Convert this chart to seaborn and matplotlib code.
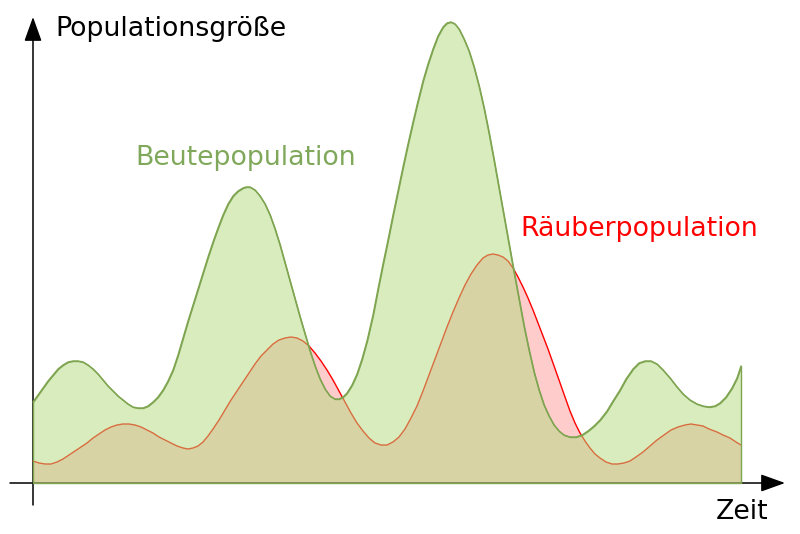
import matplotlib
matplotlib.use("Agg")
import pandas as pd
import matplotlib.pyplot as plt
import seaborn as sns

prey_t = [0, 5, 10, 15, 20, 25, 30, 35, 40, 45, 50, 55, 60, 65, 70, 75, 80, 85, 90, 95,
          100, 105, 110, 115, 120, 125, 130, 135, 140, 145, 150, 155, 160, 165, 170, 175,
          180, 185, 190, 195, 200, 205, 210, 213, 217, 222, 227, 232, 237, 242, 247, 252,
          257, 262, 267, 272, 277, 282, 287, 292, 297, 302, 306, 310, 314, 319, 324, 329,
          334, 340, 345, 350, 355, 360, 365, 370, 375, 380, 385, 390, 395, 400, 405, 410,
          414, 418, 422, 426, 431, 436, 441, 446, 451, 456, 461, 466, 471, 476, 481, 486,
          491, 496, 501, 506, 511, 516, 521, 526, 531, 537, 543, 549, 555, 561, 567, 574,
          580, 587, 593, 600, 606, 612, 618, 624, 630, 637, 644, 650, 657, 664, 670, 676,
          682, 687, 693, 699, 704, 708]
prey_n = [81, 88, 95, 102, 108, 114, 118, 121, 122, 122, 121, 118, 114, 109, 103, 97, 92, 87, 83, 79,
          76, 75, 75, 77, 81, 86, 93, 102, 113, 128, 145, 162, 178, 194, 210, 226,
          241, 255, 268, 279, 287, 292, 295, 296, 296, 293, 287, 279, 268, 254, 238, 220,
          202, 184, 166, 149, 132, 117, 104, 94, 87, 84, 84, 86, 90, 98, 109, 124,
          142, 168, 194, 219, 243, 268, 292, 316, 339, 361, 382, 402, 419, 434, 447, 456,
          460, 461, 459, 454, 444, 432, 416, 397, 375, 350, 323, 295, 267, 239, 211, 184,
          157, 133, 111, 93, 78, 67, 58, 52, 48, 46, 46, 48, 52, 57, 63, 72,
          82, 93, 104, 114, 120, 122, 122, 119, 113, 105, 96, 89, 83, 79, 77, 76,
          77, 80, 86, 95, 105, 117]

# Räuberpopulation
pred_t = [0, 6, 12, 18, 24, 30, 36, 42, 48, 54, 60, 66, 72, 78, 84, 90, 96, 102, 108, 114,
          120, 126, 132, 138, 144, 150, 155, 160, 165, 170, 175, 180, 186, 192, 198, 204,
          210, 216, 222, 228, 234, 240, 246, 252, 258, 264, 270, 276, 282, 288, 294, 300,
          306, 312, 318, 324, 330, 336, 342, 348, 354, 360, 366, 372, 378, 384, 390, 396,
          402, 408, 414, 420, 426, 432, 438, 444, 450, 455, 460, 465, 470, 475, 480, 485,
          490, 495, 500, 505, 510, 515, 520, 526, 532, 537, 542, 547, 552, 557, 562, 567,
          573, 579, 585, 591, 597, 603, 610, 617, 624, 631, 638, 645, 652, 658, 664, 670,
          676, 684, 690, 697, 703, 708]
pred_n = [22, 20, 19, 19, 21, 24, 28, 32, 36, 40, 45, 49, 53, 56, 58, 59, 59, 58, 56, 53,
          50, 46, 43, 40, 37, 35, 34, 35, 37, 41, 47, 54, 63, 73, 83, 92,
          101, 110, 119, 127, 133, 139, 143, 145, 146, 145, 142, 137, 130, 122, 113, 103,
          92, 81, 70, 60, 52, 45, 40, 38, 38, 41, 46, 54, 65, 77, 92, 108,
          124, 140, 156, 171, 185, 198, 209, 218, 225, 228, 229, 228, 226, 222, 215, 206,
          196, 185, 173, 160, 147, 134, 120, 103, 86, 72, 60, 50, 42, 35, 29, 25,
          21, 19, 19, 20, 22, 26, 31, 37, 43, 48, 53, 56, 58, 59, 58, 57,
          54, 51, 48, 45, 41, 38]

prey = pd.DataFrame({"t": prey_t, "n": prey_n})
pred = pd.DataFrame({"t": pred_t, "n": pred_n})

green_line = "#7fa551"
green_text = "#80a85a"

sns.set_theme(style="white")
plt.rcParams["font.family"] = ["DejaVu Sans"]

fig = plt.figure(figsize=(8, 5.34), dpi=100)
ax = fig.add_axes([0, 0, 1, 1])
ax.set_xlim(-33, 767)
ax.set_ylim(-51, 483)
ax.axis("off")

# Achsen mit Pfeilen
arrow = dict(arrowstyle="-|>,head_length=0.75,head_width=0.27", color="black",
             lw=1.1, mutation_scale=20, shrinkA=0, shrinkB=0)
ax.annotate("", xy=(752, 0), xytext=(-23, 0), arrowprops=arrow, zorder=1)
ax.annotate("", xy=(0, 466), xytext=(0, -22), arrowprops=arrow, zorder=1)

# Räuber zuerst (liegt unter der halbtransparenten Beute)
ax.fill_between(pred["t"], 0, pred["n"], facecolor=(1, 0, 0, 0.2), edgecolor="none", zorder=2)
sns.lineplot(data=pred, x="t", y="n", color="red", lw=1.0, ax=ax, zorder=2,
             solid_joinstyle="round")

ax.fill_between(prey["t"], 0, prey["n"], facecolor=(179/255, 219/255, 127/255, 0.5),
                edgecolor=green_line, lw=1.0, zorder=3)
sns.lineplot(data=prey, x="t", y="n", color=green_line, lw=1.0, ax=ax, zorder=4,
             solid_joinstyle="round")

ax.text(22, 454, "Populationsgröße", fontsize=19.3, color="black", va="center", ha="left")
ax.text(102, 325, "Beutepopulation", fontsize=19.3, color=green_text, va="center", ha="left")
ax.text(487, 254, "Räuberpopulation", fontsize=19.3, color="red", va="center", ha="left")
ax.text(683, -29, "Zeit", fontsize=19.3, color="black", va="center", ha="left")

ax.set_xlabel("")
ax.set_ylabel("")

fig.savefig("out.png", dpi=100)
